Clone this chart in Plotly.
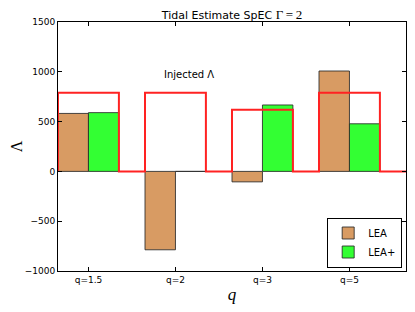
import plotly.graph_objects as go

categories = ["q=1.5", "q=2", "q=3", "q=5"]
lea = [582, -787, -105, 1008]
lea_plus = [590, 0, 667, 478]
injected = [790, 790, 620, 790]

width = 0.35
idx = list(range(len(categories)))

# step line for injected values
sx, sy = [], []
for i, v in zip(idx, injected):
    sx += [i, i, i + 2 * width, i + 2 * width]
    sy += [0, v, v, 0]
sx.append(len(categories))
sy.append(0)

fig = go.Figure()
fig.add_trace(go.Bar(
    x=[i + width / 2 for i in idx], y=lea, width=width, name="LEA",
    marker=dict(color="#D89B63", line=dict(color="rgba(40,40,40,0.85)", width=1)),
))
fig.add_trace(go.Bar(
    x=[i + 1.5 * width for i in idx], y=lea_plus, width=width, name="LEA+",
    marker=dict(color="#33FF33", line=dict(color="rgba(40,40,40,0.85)", width=1)),
))
fig.add_trace(go.Scatter(
    x=sx, y=sy, mode="lines", line=dict(color="#FF2222", width=2),
    showlegend=False, hoverinfo="skip",
))

fig.add_annotation(
    x=1.2, y=900, xref="x", yref="y", text="Injected Λ", showarrow=False,
    xanchor="left", yanchor="bottom", font=dict(size=10, color="black"),
)

W, H = 407, 304
L, R, T, B = 50, 9, 14, 41
fig.update_layout(
    width=W, height=H,
    margin=dict(l=L, r=R, t=T, b=B, autoexpand=False),
    paper_bgcolor="white", plot_bgcolor="white",
    barmode="overlay",
    font=dict(family="DejaVu Sans", size=10, color="black"),
    title=dict(
        text="Tidal Estimate SpEC <span style='font-family:Liberation Serif;font-size:13px'>Γ\u2009=\u20092</span>",
        x=(L + (W - R)) / 2 / W, xanchor="center", y=1 - 7 / H, yanchor="middle",
        font=dict(size=11, color="black"), automargin=False,
    ),
    xaxis=dict(
        range=[0, 4], tickvals=[i + width for i in idx], ticktext=categories,
        ticks="inside", ticklen=4, tickcolor="black", mirror="ticks",
        showline=True, linecolor="black", linewidth=1, showgrid=False, zeroline=False,
        tickfont=dict(size=9), automargin=False,
        title=dict(text="<i>q</i>", font=dict(family="Liberation Serif", size=17), standoff=4),
    ),
    yaxis=dict(
        range=[-1000, 1500], tickvals=[-1000, -500, 0, 500, 1000, 1500],
        ticktext=["\u22121000", "\u2212500", "0", "500", "1000", "1500"],
        ticks="inside", ticklen=4, tickcolor="black", mirror="ticks",
        showline=True, linecolor="black", linewidth=1, showgrid=False, zeroline=False,
        tickfont=dict(size=9), automargin=False,
        title=dict(text="Λ", font=dict(family="Liberation Serif", size=16), standoff=12),
    ),
    legend=dict(
        x=0.989, y=0.014, xanchor="right", yanchor="bottom",
        bordercolor="black", borderwidth=1, bgcolor="white",
        font=dict(size=10), itemwidth=30, tracegroupgap=0,
    ),
)

fig.write_html("out.html")
